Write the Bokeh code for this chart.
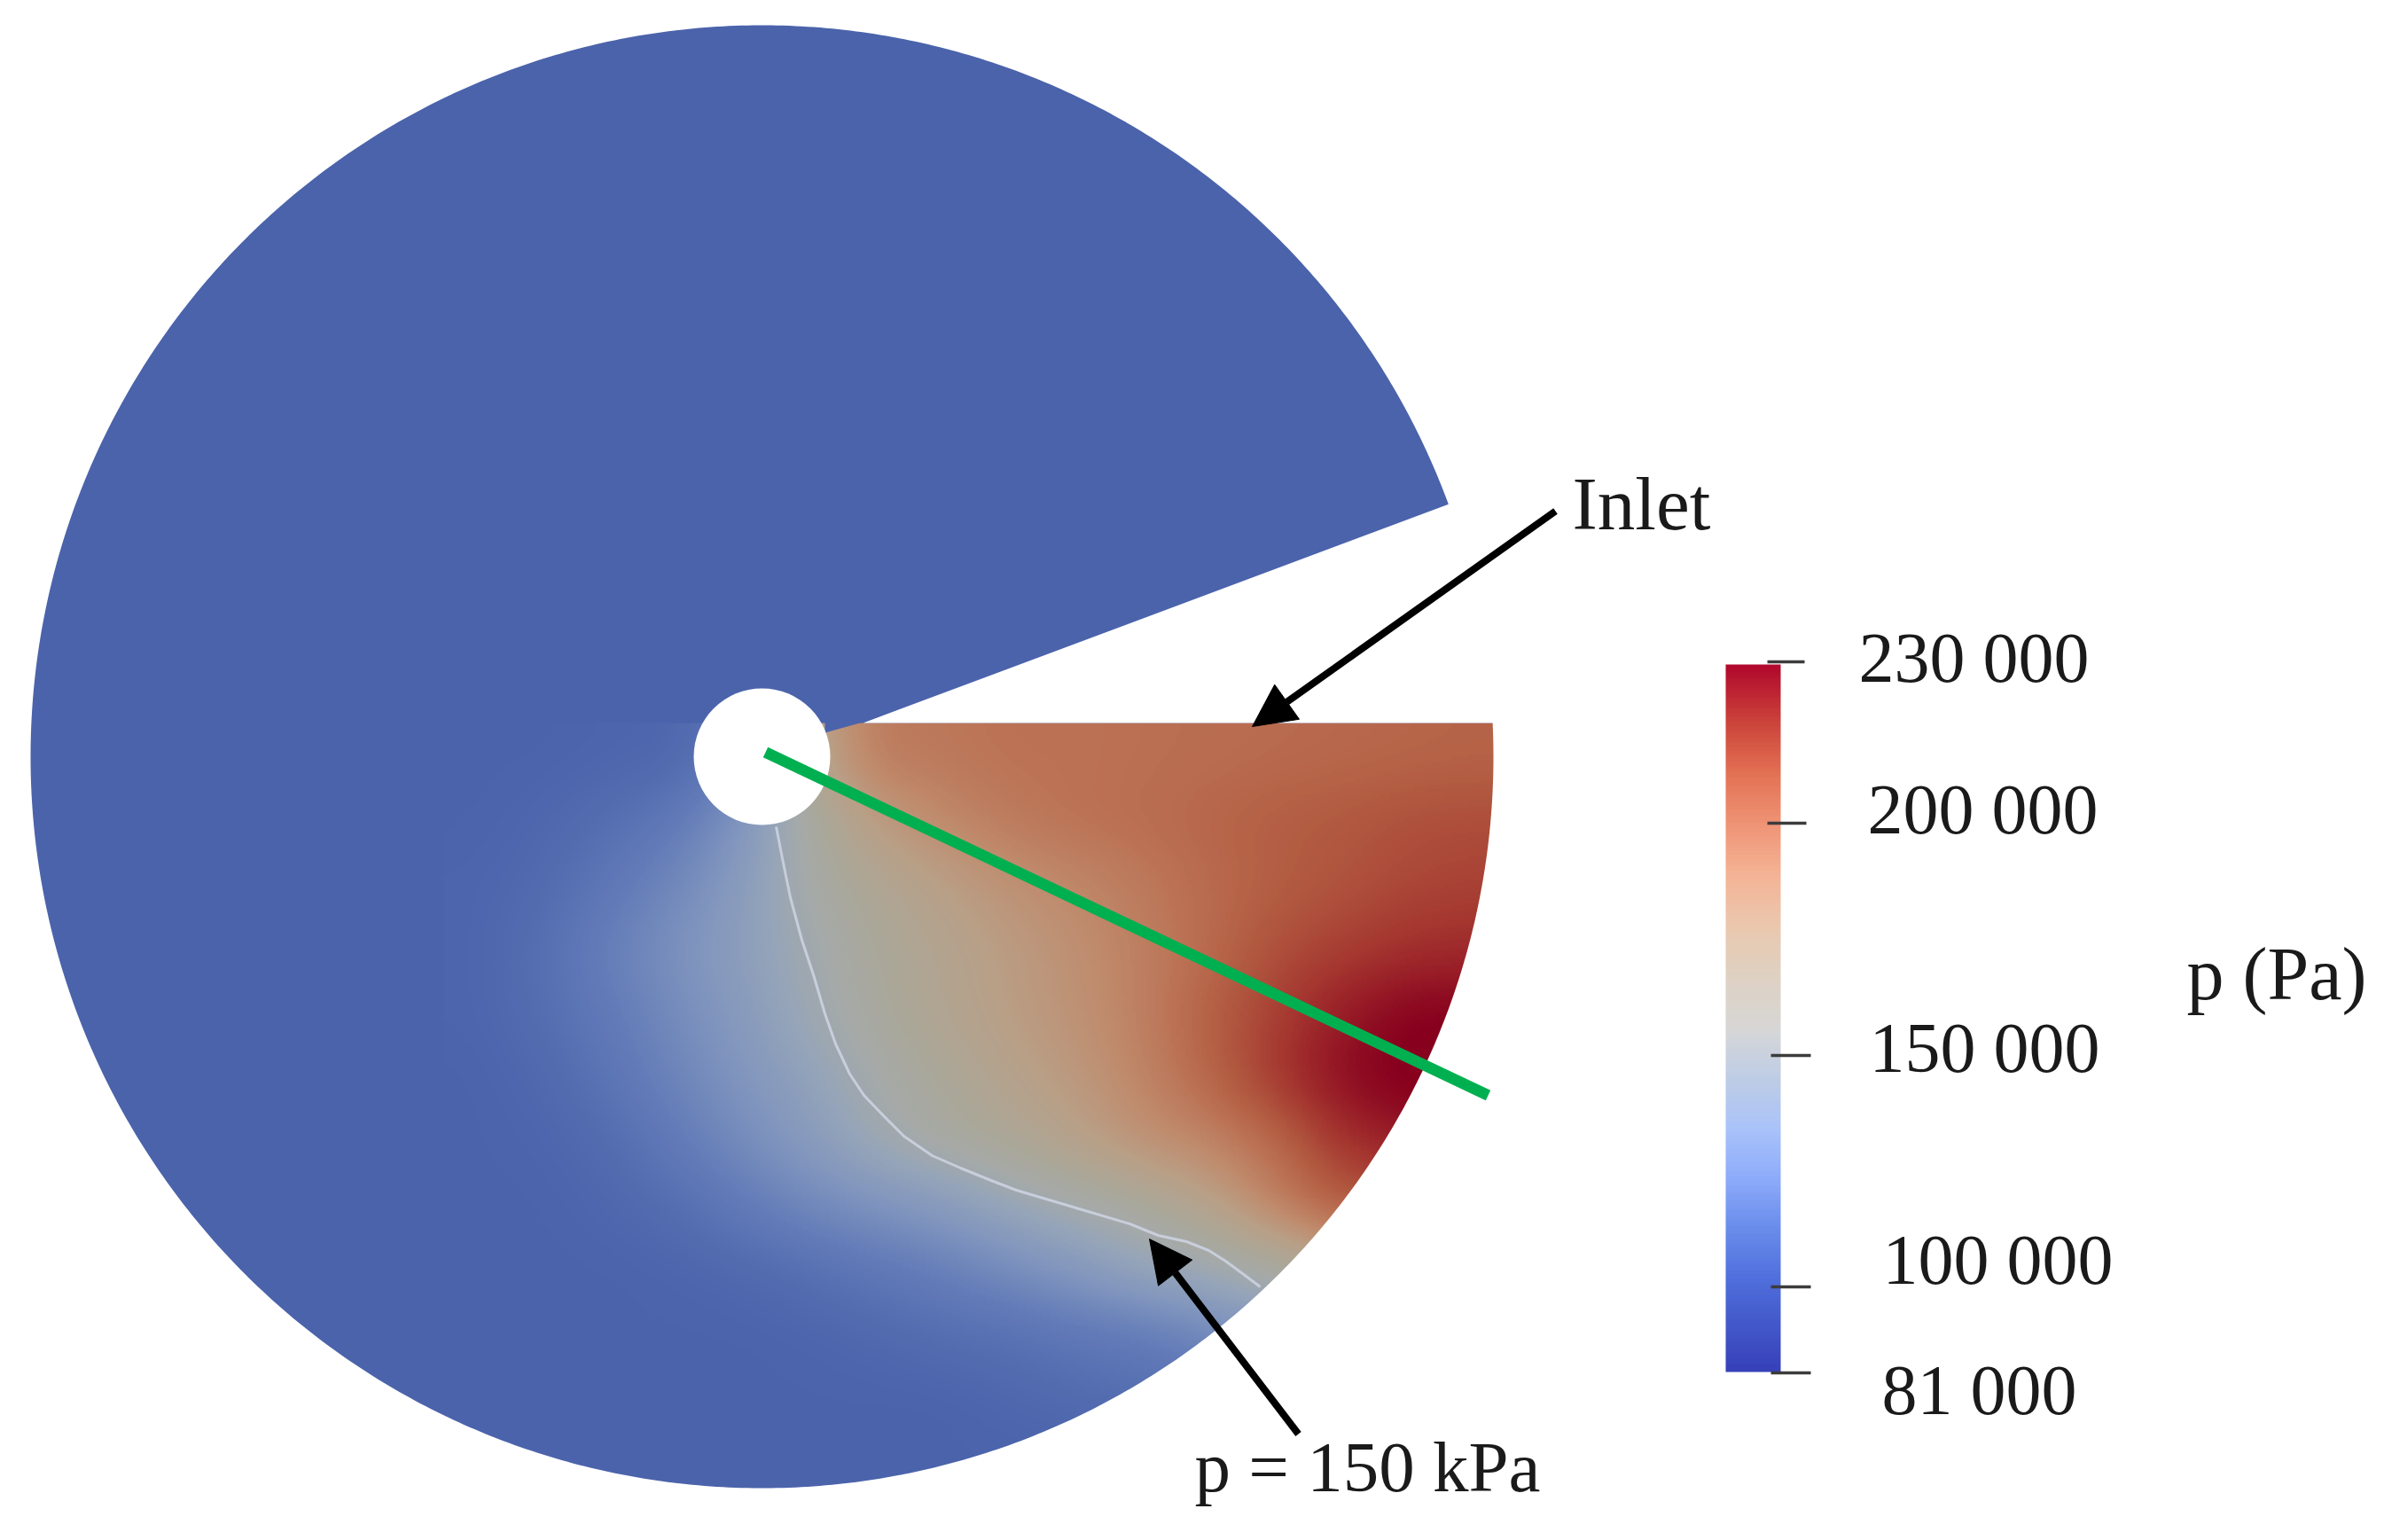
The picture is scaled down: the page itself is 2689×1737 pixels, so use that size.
import numpy as np
from bokeh.plotting import figure
from bokeh.models import LinearColorMapper, Arrow, NormalHead, Range1d
from bokeh.core.properties import value
from bokeh.embed import file_html
from bokeh.resources import INLINE

H = 1737
def Y(v):
    return H - np.asarray(v, dtype=float)

# ---- data -----------------------------------------------------------------
# pressure in kPa; rows go from the top of the sector to the bottom,
# columns from left to right
pressure_kpa = [
    [100,100,101,102,115,165,186,188,190,190,191,192,193,194,195,196],
    [100,102,106,113,130,155,172,181,187,190,192,195,198,200,203,204],
    [101,104,112,122,135,152,162,170,177,182,187,193,198,202,206,208],
    [101,107,117,127,137,148,158,165,172,178,185,193,203,209,214,216],
    [101,106,114,124,134,146,156,164,171,177,185,197,209,221,229,230],
    [100,103,110,120,130,140,151,159,167,174,183,195,211,226,232,232],
    [100,101,105,114,124,134,146,154,160,168,177,183,194,213,222,222],
    [100,100,102,106,114,122,128,134,143,150,157,167,183,198,200,200],
    [100,100,100,101,103,107,112,117,124,132,141,147,155,165,165,165],
    [100,100,100,100,100,101,103,106,108,112,115,122,130,130,130,130],
    [100,100,100,100,100,100,100,100,102,104,106,108,108,108,108,108],
    [100,100,100,100,100,100,100,100,100,100,100,100,100,100,100,100],
]
background_kpa = 100
p_min, p_max = 81000, 230000

tick_labels = ["230 000", "200 000", "150 000", "100 000", "81 000"]
other_labels = ["p (Pa)", "Inlet", "p = 150 kPa"]

# the 150 kPa isoline
iso_x = [875, 882, 891, 904, 917, 930, 942, 958, 974, 997, 1019, 1051, 1083, 1115,
         1146, 1210, 1274, 1306, 1338, 1363, 1382, 1401, 1421]
iso_y = [932, 968, 1012, 1060, 1099, 1143, 1177, 1211, 1235, 1259, 1281, 1303, 1317, 1330,
         1342, 1361, 1380, 1393, 1400, 1410, 1422, 1436, 1451]

# colour ramps: value (kPa) -> RGB
bar_stops = [(81,(55,65,185)),(89,(65,85,200)),(100,(80,110,220)),(110.5,(105,140,235)),
             (121,(140,170,250)),(132,(170,195,250)),(142.6,(190,205,230)),(153,(215,215,215)),
             (164,(222,210,195)),(175,(235,200,175)),(185.5,(245,180,150)),(196,(240,150,120)),
             (207,(228,115,85)),(217.7,(205,70,60)),(230,(178,10,45))]
field_stops = [(81,(66,88,165)),(100,(76,100,172)),(115,(100,125,185)),(130,(130,150,190)),
               (142,(150,165,185)),(150,(165,170,170)),(158,(170,168,155)),(170,(185,160,135)),
               (180,(192,140,110)),(190,(188,115,85)),(200,(178,90,65)),(212,(165,55,48)),
               (222,(150,25,38)),(230,(135,0,30))]

def ramp(stops, n=256):
    v = np.linspace(81, 230, n)
    k = [s[0] for s in stops]
    rgb = [np.interp(v, k, [s[1][i] for s in stops]) for i in range(3)]
    return ["#%02x%02x%02x" % (int(r), int(g), int(b)) for r, g, b in zip(*rgb)]

field_mapper = LinearColorMapper(palette=ramp(field_stops), low=p_min, high=p_max)
bar_mapper = LinearColorMapper(palette=ramp(bar_stops), low=p_min, high=p_max)

p = figure(width=2673, height=1721, output_backend="svg", toolbar_location=None,
           x_range=Range1d(0, 2673), y_range=Range1d(16, 1737),
           min_border=0, outline_line_color=None, background_fill_color="white")
p.axis.visible = False
p.grid.visible = False

# ---- layout of the disk -----------------------------------------------------
cx, cy, R, hub_r = 859, 853, 825, 77
tip = (1634, 568)
corner = (1683, 815)
a0 = np.arctan2(cy - tip[1], tip[0] - cx)
a1 = np.arctan2(cy - corner[1], corner[0] - cx) + 2 * np.pi
th = np.linspace(a0, a1, 720)
dom_x = list(cx + R * np.cos(th)) + [corner[0], 973, tip[0]]
dom_y = list(Y(cy - R * np.sin(th))) + list(Y([corner[1], 815, tip[1]]))
base_colour = field_mapper.palette[int((background_kpa - 81) / 149 * 255)]

# blue base of the domain
p.quad(left=25, right=1700, bottom=Y(1690), top=Y(20), fill_color=base_colour, line_color=None)

# pressure field in the sector: the table is resampled for display only, so
# that it shades smoothly as a rendered field does
def shade(table, step=25):
    t = np.array(table, dtype=float)
    nr, nc = t.shape
    xi = (np.arange(nc * step) + 0.5) / step - 0.5
    yi = (np.arange(nr * step) + 0.5) / step - 0.5
    t = np.array([np.interp(xi, np.arange(nc), row) for row in t])
    t = np.array([np.interp(yi, np.arange(nr), col) for col in t.T]).T
    kernel = np.ones(step) / step
    for axis in (0, 1):
        pad = [(0, 0), (0, 0)]
        pad[axis] = (step, step)
        t = np.apply_along_axis(lambda m: np.convolve(m, kernel, mode="same"), axis,
                                np.pad(t, pad, mode="edge"))
        t = t[step:-step, :] if axis == 0 else t[:, step:-step]
    return t

field = np.flipud(shade(pressure_kpa)) * 1000
p.image(image=[field], x=500, y=float(Y(1685)), dw=1200, dh=870, color_mapper=field_mapper)

# the blue wedge meets the hub above the sector's corner
p.patch([930, 973, 930], Y([826, 814, 810]), fill_color=base_colour, line_color=None)

# white outside of the domain
box_x = [0, 2689, 2689, 0]
box_y = [0, 0, H, H]
p.multi_polygons(xs=[[[box_x, dom_x]]], ys=[[[box_y, dom_y]]], fill_color="white", line_color=None)
p.circle(x=[cx], y=[float(Y(cy))], radius=hub_r, fill_color="white", line_color=None)

# isoline and section line
p.line(iso_x, Y(iso_y), line_color="#ccd2e0", line_width=3, line_alpha=0.9, line_join="round")
p.line([863, 1678], Y([848, 1235]), line_color="#00b050", line_width=12.5)

# arrows
for (x0, y0, x1, y1) in [(1754, 576, 1412, 819), (1464, 1617, 1296, 1397)]:
    p.add_layout(Arrow(x_start=x0, y_start=float(Y(y0)), x_end=x1, y_end=float(Y(y1)),
                       line_color="black", line_width=8,
                       end=NormalHead(size=48, fill_color="black", line_color="black", line_width=1)))

# colour bar
bar = np.linspace(p_min, p_max, 400).reshape(-1, 1)
p.image(image=[bar], x=1946, y=float(Y(1547)), dw=62, dh=798, color_mapper=bar_mapper)
tx0 = [1993, 1993, 1997, 1997, 1997]
tx1 = [2035, 2037, 2042, 2042, 2042]
ty = [746, 928, 1190, 1451, 1548]
p.segment(x0=tx0, x1=tx1, y0=Y(ty), y1=Y(ty), line_color="#3c3c3c", line_width=3.5)

serif = value("Liberation Serif")
dy = 29
p.text(x=[2096, 2106, 2108, 2123, 2122], y=Y(np.array([770, 941, 1210, 1449, 1596]) - dy), text=tick_labels,
       text_font=serif, text_font_size="80px", text_color="#1a1a1a",
       text_align="left", text_baseline="alphabetic")
p.text(x=[2466], y=Y(np.array([1127]) - dy), text=other_labels[:1],
       text_font=serif, text_font_size="84px", text_color="#1a1a1a",
       text_align="left", text_baseline="alphabetic")
p.text(x=[1773], y=Y(np.array([596]) - dy), text=other_labels[1:2],
       text_font=serif, text_font_size="85px", text_color="#1a1a1a",
       text_align="left", text_baseline="alphabetic")
p.text(x=[1347], y=Y(np.array([1683]) - dy), text=other_labels[2:],
       text_font=serif, text_font_size="81px", text_color="#1a1a1a",
       text_align="left", text_baseline="alphabetic")

open("out.html", "w").write(file_html(p, INLINE))
